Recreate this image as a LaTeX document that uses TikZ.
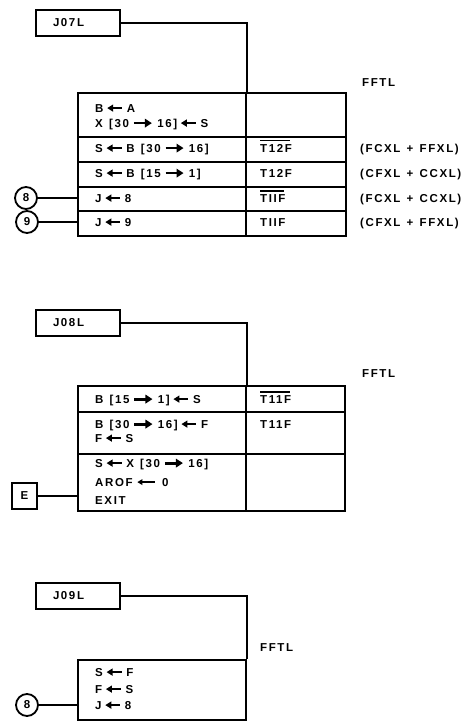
\documentclass[tikz,border=0pt]{standalone}
\usepackage{fontspec}
\setmainfont{Liberation Sans Bold}[LetterSpace=14,WordSpace=1.3]
\usetikzlibrary{arrows.meta}
\newcommand{\lar}{\hspace{3pt}\tikz[baseline={(0pt,-4pt)}]\draw[line width=1.4pt,{Triangle[length=6pt,width=7pt]}-] (0pt,0pt)--(15pt,0pt);\hspace{4pt}}
\newcommand{\larl}{\hspace{4pt}\tikz[baseline={(0pt,-4pt)}]\draw[line width=1.4pt,{Triangle[length=5pt,width=5.5pt]}-] (0pt,0pt)--(18pt,0pt);\hspace{6pt}}
\newcommand{\rar}{\hspace{3.5pt}\tikz[baseline={(0pt,-4pt)}]\draw[line width=2.8pt,-{Triangle[length=7pt,width=8.5pt]}] (0pt,0pt)--(18pt,0pt);\hspace{4pt}}
\newcommand{\ovl}[1]{\setbox0\hbox{#1}\rlap{\rule[10.6pt]{\dimexpr\wd0-1.5pt\relax}{1.2pt}}\box0}
\begin{document}
\begin{tikzpicture}[x=1pt,y=-1pt,
  every node/.append style={font=\fontsize{11.5}{13}\selectfont},
  lbl/.style={draw,line width=1.8pt,minimum height=26pt,text width=50pt,inner xsep=17pt,align=left,inner ysep=0pt},
  cell/.style={draw,line width=1.8pt,anchor=north west,inner sep=0pt},
  txt/.style={anchor=west,inner sep=0pt,text height=8.2pt,text depth=0pt},
  conn/.style={line width=1.5pt},
  circ/.style={draw,circle,line width=1.8pt,minimum size=22pt,inner sep=0pt},
  ebox/.style={draw,line width=1.8pt,minimum width=25pt,minimum height=26pt,inner sep=0pt}]
\useasboundingbox (0,0) rectangle (475,727);

% ---------- Section 1 ----------
\node[lbl] (j07) at (78,23) {J07L};
\node[cell,minimum width=168pt,minimum height=44pt] (a1) at (77,92) {};
\node[cell,minimum width=100pt,minimum height=44pt] (b1) at (245,92) {};
\node[cell,minimum width=168pt,minimum height=25pt] (a2) at (77,136) {};
\node[cell,minimum width=100pt,minimum height=25pt] (b2) at (245,136) {};
\node[cell,minimum width=168pt,minimum height=25pt] (a3) at (77,161) {};
\node[cell,minimum width=100pt,minimum height=25pt] (b3) at (245,161) {};
\node[cell,minimum width=168pt,minimum height=24pt] (a4) at (77,186) {};
\node[cell,minimum width=100pt,minimum height=24pt] (b4) at (245,186) {};
\node[cell,minimum width=168pt,minimum height=25pt] (a5) at (77,210) {};
\node[cell,minimum width=100pt,minimum height=25pt] (b5) at (245,210) {};
\draw[conn] (j07.east) -| (a1.north east);

\node[txt] (t11) at (95,108) {B\lar{}A};
\node[txt] (t12) at (95,123) {X [30\rar{}16]\lar{}S};
\node[txt] (t2) at (95,148) {S\lar{}B [30\rar{}16]};
\node[txt] (t3) at (95,173) {S\lar{}B [15\rar{}1]};
\node[txt] (t4) at (95,198) {J\lar{}8};
\node[txt] (t5) at (95,222) {J\lar{}9};
\node[txt] (c2) at (260,148) {\ovl{T12F}};
\node[txt] (c3) at (260,173) {T12F};
\node[txt] (c4) at (260,198) {\ovl{TIIF}};
\node[txt] (c5) at (260,222) {TIIF};
\node[txt] (f1) at (362,82) {FFTL};
\node[txt] (r2) at (360,148) {(FCXL + FFXL)};
\node[txt] (r3) at (360,173) {(CFXL + CCXL)};
\node[txt] (r4) at (360,198) {(FCXL + CCXL)};
\node[txt] (r5) at (360,222) {(CFXL + FFXL)};
\node[circ] (k8) at (26,198) {8};
\node[circ] (k9) at (27,222) {9};
\draw[conn] (k8.east) -- (k8.east -| a4.west);
\draw[conn] (k9.east) -- (k9.east -| a5.west);

% ---------- Section 2 ----------
\node[lbl] (j08) at (78,323) {J08L};
\node[cell,minimum width=168pt,minimum height=26pt] (d1) at (77,385) {};
\node[cell,minimum width=99pt,minimum height=26pt] (e1) at (245,385) {};
\node[cell,minimum width=168pt,minimum height=42pt] (d2) at (77,411) {};
\node[cell,minimum width=99pt,minimum height=42pt] (e2) at (245,411) {};
\node[cell,minimum width=168pt,minimum height=57pt] (d3) at (77,453) {};
\node[cell,minimum width=99pt,minimum height=57pt] (e3) at (245,453) {};
\draw[conn] (j08.east) -| (d1.north east);

\node[txt] (u1) at (95,399) {B [15\rar{}1]\lar{}S};
\node[txt] (u21) at (95,424) {B [30\rar{}16]\lar{}F};
\node[txt] (u22) at (95,438) {F\lar{}S};
\node[txt] (u31) at (95,463) {S\lar{}X [30\rar{}16]};
\node[txt] (u32) at (95,482) {AROF\larl{}0};
\node[txt] (u33) at (95,500) {EXIT};
\node[txt] (v1) at (260,399) {\ovl{T11F}};
\node[txt] (v2) at (260,424) {T11F};
\node[txt] (f2) at (362,373) {FFTL};
\node[ebox] (ex) at (24.5,496) {E};
\draw[conn] (ex.east) -- (ex.east -| d3.west);

% ---------- Section 3 ----------
\node[lbl] (j09) at (78,596) {J09L};
\node[cell,minimum width=168pt,minimum height=60pt] (g1) at (77,659) {};
\draw[conn] (j09.east) -| (g1.north east);
\node[txt] (w1) at (95,672) {S\lar{}F};
\node[txt] (w2) at (95,689) {F\lar{}S};
\node[txt] (w3) at (95,705) {J\lar{}8};
\node[txt] (f3) at (260,647) {FFTL};
\node[circ] (k8b) at (27,705) {8};
\draw[conn] (k8b.east) -- (k8b.east -| g1.west);
\end{tikzpicture}
\end{document}
